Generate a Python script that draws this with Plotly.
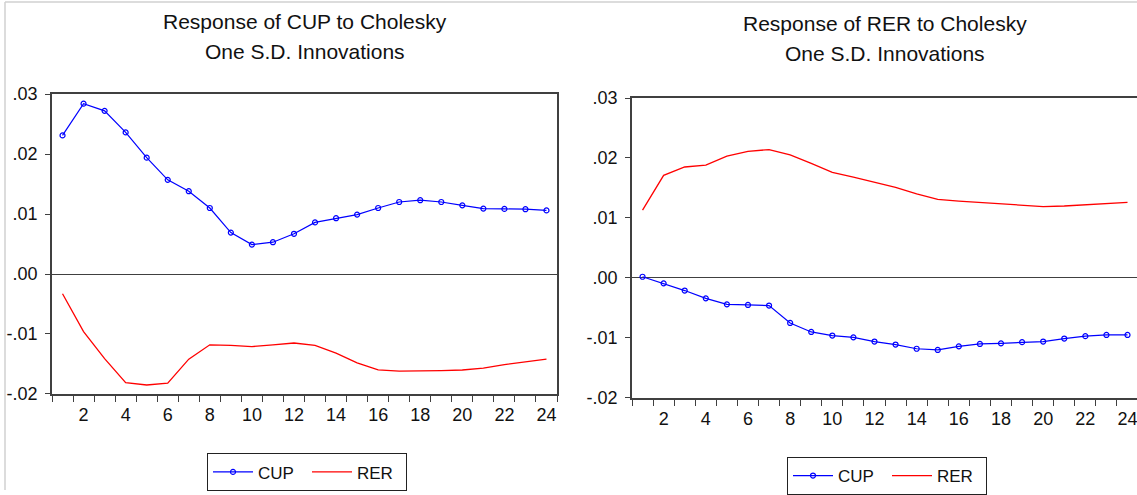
import plotly.graph_objects as go

periods = list(range(1, 25))

# Response of CUP
cup_cup = [0.0231, 0.0284, 0.0272, 0.0236, 0.0194, 0.0157, 0.0138, 0.0110, 0.0069, 0.0049,
           0.0053, 0.0067, 0.0086, 0.0093, 0.0099, 0.0110, 0.0120, 0.0123, 0.0120, 0.01145,
           0.0109, 0.01085, 0.0108, 0.0106]
cup_rer = [-0.0033, -0.0096, -0.0141, -0.0181, -0.0185, -0.0182, -0.0142, -0.0118, -0.0119, -0.0121,
           -0.0118, -0.0115, -0.0119, -0.0132, -0.0148, -0.0160, -0.0162, -0.0162, -0.0161, -0.0160,
           -0.0157, -0.0151, -0.0146, -0.0142]

# Response of RER
rer_cup = [0.0002, -0.0009, -0.0021, -0.0034, -0.0044, -0.0045, -0.0046, -0.0075, -0.0090, -0.0096,
           -0.0099, -0.0106, -0.0111, -0.0118, -0.0120, -0.0114, -0.0110, -0.0109, -0.0107, -0.0106,
           -0.0101, -0.0097, -0.0095, -0.0095]
rer_rer = [0.0113, 0.0171, 0.0185, 0.0188, 0.0203, 0.0211, 0.0214, 0.0205, 0.0191, 0.0176,
           0.0168, 0.0159, 0.0151, 0.0140, 0.0131, 0.0128, 0.0126, 0.0124, 0.0122, 0.0119,
           0.0120, 0.0122, 0.0125, 0.0126]

y_tickvals = [0.03, 0.02, 0.01, 0.00, -0.01, -0.02]
y_ticktext = [".03", ".02", ".01", ".00", "-.01", "-.02"]
x_tickvals = list(range(2, 25, 2))
titles_left = ["Response of CUP to Cholesky", "One S.D. Innovations"]
titles_right = ["Response of RER to Cholesky", "One S.D. Innovations"]

W, H = 1137, 495
FONT = "Liberation Sans, Arial, sans-serif"
BLUE = "#0000ff"
RED = "#ff0000"
AX = "#404040"

fig = go.Figure()

def add_pair(cup, rer, xa, ya, legend):
    fig.add_trace(go.Scatter(x=periods, y=cup, name="CUP", mode="lines+markers",
                             line=dict(color=BLUE, width=1.2),
                             marker=dict(symbol="circle-open", size=5, color=BLUE, line=dict(width=1.2)),
                             xaxis=xa, yaxis=ya, legend=legend))
    fig.add_trace(go.Scatter(x=periods, y=rer, name="RER", mode="lines",
                             line=dict(color=RED, width=1.3),
                             xaxis=xa, yaxis=ya, legend=legend))

add_pair(cup_cup, cup_rer, "x", "y", "legend")
add_pair(rer_cup, rer_rer, "x2", "y2", "legend2")

def xaxis_cfg(domain, rng):
    return dict(domain=domain, range=rng, tickvals=x_tickvals, ticks="", showgrid=False,
                zeroline=False, showline=True, linecolor=AX, linewidth=1.5, mirror=True,
                tickfont=dict(family=FONT, size=18, color="#111"),
                minor=dict(ticks="outside", tick0=0.5, dtick=1, ticklen=6, tickcolor=AX, tickwidth=1, showgrid=False),
                automargin=False, ticklabelstandoff=4, ticklabeloverflow="allow")

def yaxis_cfg(domain, anchor):
    return dict(domain=domain, range=[-0.02, 0.03], tickvals=y_tickvals, ticktext=y_ticktext,
                ticks="outside", ticklen=5, tickcolor=AX, showgrid=False,
                zeroline=True, zerolinecolor=AX, zerolinewidth=1.2,
                showline=True, linecolor=AX, linewidth=1.5, mirror=True, anchor=anchor,
                tickfont=dict(family=FONT, size=18, color="#111"), automargin=False,
                ticklabelstandoff=4)

lx0, lx1 = 52 / W, 557 / W
ly0, ly1 = 1 - 398 / H, 1 - 95 / H
rx0, rx1 = 632 / W, 1.0
ry0, ry1 = 1 - 402 / H, 1 - 99 / H

legend_common = dict(orientation="h", yanchor="top", xanchor="center",
                     bordercolor="#222", borderwidth=1,
                     font=dict(family=FONT, size=17, color="#111"),
                     itemwidth=40, entrywidth=44, bgcolor="white")

fig.update_layout(
    width=W, height=H, margin=dict(l=0, r=0, t=0, b=0),
    paper_bgcolor="white", plot_bgcolor="white",
    xaxis=dict(**xaxis_cfg([lx0, lx1], [0.5, 24.5]), anchor="y"),
    yaxis=yaxis_cfg([ly0, ly1], "x"),
    xaxis2=dict(**xaxis_cfg([rx0, rx1], [0.5, 24.45]), anchor="y2"),
    yaxis2=yaxis_cfg([ry0, ry1], "x2"),
    legend=dict(**legend_common, x=307 / W, y=1 - 458 / H),
    legend2=dict(**legend_common, x=887 / W, y=1 - 462 / H),
    showlegend=True,
)

ann = []
for i, t in enumerate(titles_left):
    ann.append(dict(text=t, x=305 / W, y=1 - (22 + 30 * i) / H, xref="paper", yref="paper",
                    showarrow=False, xanchor="center", yanchor="middle",
                    font=dict(family=FONT, size=21, color="#111")))
for i, t in enumerate(titles_right):
    ann.append(dict(text=t, x=885 / W, y=1 - (24 + 30 * i) / H, xref="paper", yref="paper",
                    showarrow=False, xanchor="center", yanchor="middle",
                    font=dict(family=FONT, size=21, color="#111")))
fig.update_layout(annotations=ann)

fig.add_shape(type="line", xref="paper", yref="paper", x0=5 / W, x1=5 / W, y0=0, y1=1 - 2 / H,
              line=dict(color="#d0d0d0", width=1.5))
fig.add_shape(type="line", xref="paper", yref="paper", x0=5 / W, x1=1, y0=1 - 2 / H, y1=1 - 2 / H,
              line=dict(color="#d0d0d0", width=1.5))

fig.write_html("out.html", config={"displayModeBar": False},
               post_script="document.body.style.margin='0px';document.body.style.overflow='hidden';")
